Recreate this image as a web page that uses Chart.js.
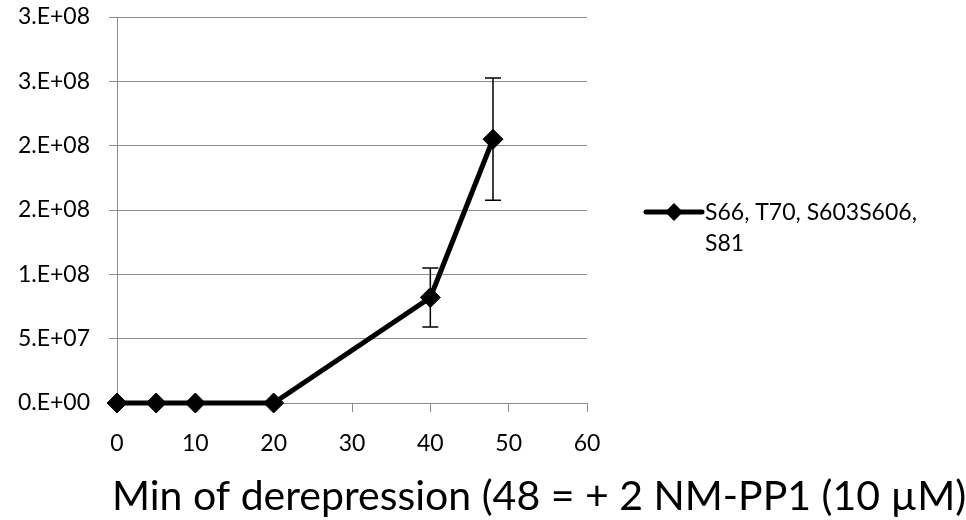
<!DOCTYPE html>
<html>
<head>
<meta charset="utf-8">
<script src="https://cdn.jsdelivr.net/npm/chart.js@4"></script>
<style>
  html, body { margin: 0; padding: 0; background: #fff; }
  #wrap { width: 966px; height: 520px; }
</style>
</head>
<body>
<div id="wrap"><canvas id="chart" width="966" height="520"></canvas></div>
<script>
// values
const minutes = [0, 5, 10, 20, 40, 48];
const signal = [0, 0, 0, 0, 8.2e7, 2.05e8];
const errors = [0, 0, 0, 0, 2.3e7, 4.75e7];
const seriesName = ['S66, T70, S603S606,', 'S81'];
const yTickLabels = ['0.E+00', '5.E+07', '1.E+08', '2.E+08', '2.E+08', '3.E+08', '3.E+08'];
const xTitle = 'Min of derepression (48 = + 2 NM-PP1 (10 \u00b5M)';

const FONT = 'Lato';
const GRID = '#8c8c8c';

//draws the vertical error bars with caps
const errorBars = {
  id: 'errorBars',
  afterDatasetsDraw(chart) {
    var ctx = chart.ctx;
    var xs = chart.scales.x, ys = chart.scales.y;
    ctx.save();
    ctx.strokeStyle = '#000';
    ctx.lineWidth = 1.5;
    for (var i = 0; i < minutes.length; i++) {
      if (!errors[i]) continue;
      var px = xs.getPixelForValue(minutes[i]);
      var top = ys.getPixelForValue(signal[i] + errors[i]);
      var bot = ys.getPixelForValue(signal[i] - errors[i]);
      ctx.beginPath();
      ctx.moveTo(px, top); ctx.lineTo(px, bot);
      ctx.moveTo(px - 8, top); ctx.lineTo(px + 8, top);
      ctx.moveTo(px - 8, bot); ctx.lineTo(px + 8, bot);
      ctx.stroke();
    }
    ctx.restore();
  }
};

//legend on the right and the axis title under the chart
const extras = {
  id: 'extras',
  afterDraw(chart) {
    var ctx = chart.ctx;
    ctx.save();
    // legend marker
    ctx.strokeStyle = '#000';
    ctx.lineWidth = 5;
    ctx.lineCap = 'round';
    ctx.beginPath();
    ctx.moveTo(646, 212); ctx.lineTo(702, 212);
    ctx.stroke();
    ctx.fillStyle = '#000';
    ctx.beginPath();
    ctx.moveTo(674 - 9, 212); ctx.lineTo(674, 203);
    ctx.lineTo(674 + 9, 212); ctx.lineTo(674, 221);
    ctx.closePath();
    ctx.fill();
    // legend text
    ctx.font = '23px ' + FONT;
    ctx.textBaseline = 'middle';
    ctx.textAlign = 'left';
    for (var i = 0; i < seriesName.length; i++) {
      ctx.fillText(seriesName[i], 705, 213 + i * 31);
    }
    // axis title
    ctx.font = '41px ' + FONT;
    ctx.textBaseline = 'alphabetic';
    ctx.fillText(xTitle, 112, 510);
    ctx.restore();
  }
};

var chart = new Chart(document.getElementById('chart'), {
  type: 'line',
  data: {
    datasets: [{
      label: seriesName.join(' '),
      data: minutes.map(function (m, i) { return { x: m, y: signal[i] }; }),
      borderColor: '#000',
      backgroundColor: '#000',
      borderWidth: 5,
      pointStyle: 'rectRot',
      pointRadius: 10,
      pointBorderWidth: 1,
      pointBackgroundColor: '#000',
      pointBorderColor: '#000',
      tension: 0,
      fill: false,
      clip: false
    }]
  },
  options: {
    responsive: false,
    animation: false,
    events: [],
    layout: { autoPadding: false, padding: { top: 17, right: 379, bottom: 0, left: 0 } },
    plugins: {
      legend: { display: false },
      tooltip: { enabled: false }
    },
    scales: {
      x: {
        type: 'linear',
        min: 0,
        max: 60,
        afterFit: function (s) { s.height = 117; },
        border: { color: GRID, width: 1 },
        grid: { drawOnChartArea: false, color: GRID, tickLength: 9 },
        ticks: {
          stepSize: 10,
          padding: 18,
          color: '#000',
          font: { family: FONT, size: 23 },
          maxRotation: 0
        }
      },
      y: {
        min: 0,
        max: 3e8,
        // fixed axis width, no extra room above the top label
        afterFit: function (s) { s.width = 117; s.paddingTop = 0; s.paddingBottom = 0; },
        border: { color: GRID, width: 1 },
        grid: { color: GRID, tickLength: 8 },
        ticks: {
          stepSize: 5e7,
          padding: 19,
          color: '#000',
          font: { family: FONT, size: 23 },
          callback: function (v, i) { return yTickLabels[i]; }
        }
      }
    }
  },
  plugins: [errorBars, extras]
});
</script>
</body>
</html>
